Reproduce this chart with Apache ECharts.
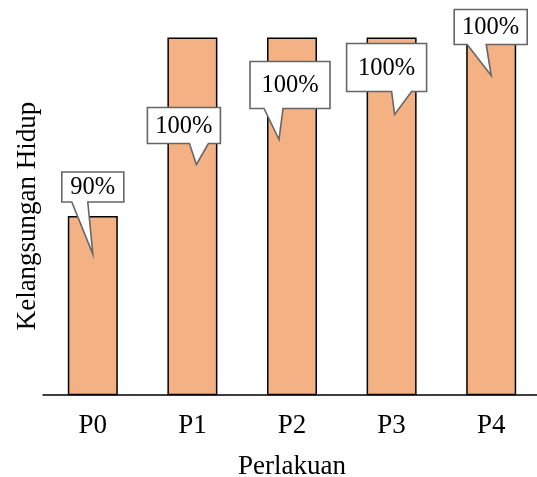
<!DOCTYPE html>
<html>
<head>
<meta charset="utf-8">
<script src="https://cdn.jsdelivr.net/npm/echarts@6/dist/echarts.min.js"></script>
<style>
  html, body { margin: 0; padding: 0; background: #fff; }
  #chart { width: 537px; height: 477px; }
</style>
</head>
<body>
<div id="chart"></div>
<script>
// data
const categories = ['P0', 'P1', 'P2', 'P3', 'P4'];
const survival = [90, 100, 100, 100, 100];
const survivalLabels = ['90%', '100%', '100%', '100%', '100%'];

// callout geometry, px relative to the top centre of each bar
// box: [left, top, right, bottom], tail: [baseLeft, baseRight], tip: [x, y]
const calloutShape = [
  { box: [-31, -44, 31, -14], tail: [-21, -5], tip: [0, 38] },
  { box: [-45, 70, 28, 106], tail: [-3, 16], tip: [4, 127] },
  { box: [-42, 24, 38, 71], tail: [-28, -9], tip: [-13, 102] },
  { box: [-45, 6, 35, 54], tail: [0, 20], tip: [3, 77] },
  { box: [-37, -28, 36, 7], tail: [-24, -5], tip: [0, 38] },
];

const FONT = '"Liberation Serif", "Times New Roman", serif';

function renderCallout(params, api) {
  const i = api.value(0);
  const p = api.coord([i, api.value(1)]);
  const s = calloutShape[i];
  const [l, t, r, b] = s.box;
  const pts = [
    [l, t], [r, t], [r, b],
    [s.tail[1], b], [s.tip[0], s.tip[1]], [s.tail[0], b],
    [l, b],
  ].map(([x, y]) => [p[0] + x, p[1] + y]);
  return {
    type: 'group',
    children: [
      {
        type: 'polygon',
        shape: { points: pts },
        style: { fill: '#fff', stroke: '#666', lineWidth: 1.6 },
      },
      {
        type: 'text',
        style: {
          text: survivalLabels[i],
          x: p[0] + (l + r) / 2,
          y: p[1] + (t + b) / 2 + 1,
          align: 'center',
          verticalAlign: 'middle',
          font: '24.5px ' + FONT,
          fill: '#000',
        },
      },
    ],
  };
}

const chart = echarts.init(document.getElementById('chart'));
chart.setOption({
  animation: false,
  textStyle: { fontFamily: FONT },
  grid: { left: 43, top: 37.5, width: 498, height: 357, outerBoundsMode: 'none' },
  xAxis: {
    type: 'category',
    data: categories,
    name: 'Perlakuan',
    nameLocation: 'middle',
    nameGap: 59,
    nameTextStyle: { fontSize: 27, color: '#000', fontFamily: FONT },
    axisLine: { lineStyle: { color: '#000', width: 1.5 } },
    axisTick: { show: false },
    axisLabel: { fontSize: 27, color: '#000', margin: 18, fontFamily: FONT },
  },
  yAxis: {
    type: 'value',
    min: 80,
    max: 100,
    name: 'Kelangsungan Hidup',
    nameLocation: 'middle',
    nameGap: 2,
    nameTextStyle: { fontSize: 27, color: '#000', fontFamily: FONT },
    axisLine: { show: false },
    axisTick: { show: false },
    axisLabel: { show: false },
    splitLine: { show: false },
  },
  series: [
    {
      type: 'bar',
      data: survival,
      barWidth: 50,
      itemStyle: { color: '#F4B183', borderColor: '#000', borderWidth: 1.5 },
    },
    {
      type: 'custom',
      clip: false,
      z: 5,
      data: categories.map((c, i) => [i, survival[i]]),
      encode: { x: 0, y: 1 },
      renderItem: renderCallout,
    },
  ],
});
</script>
</body>
</html>
